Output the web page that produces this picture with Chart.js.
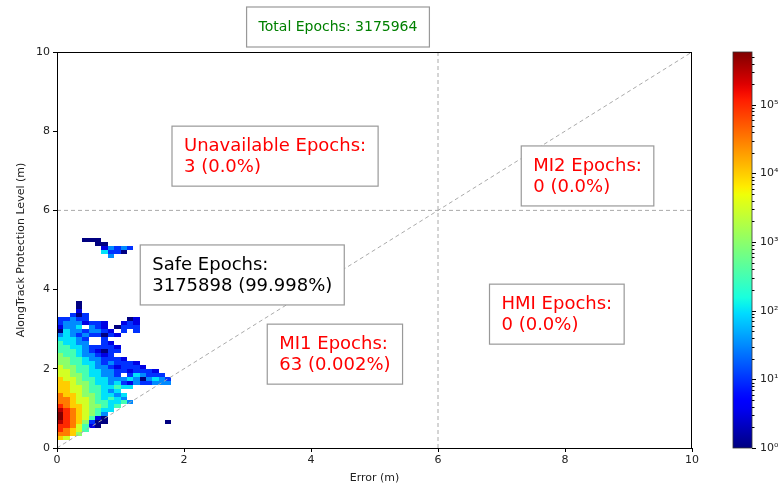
<!DOCTYPE html>
<html>
<head>
<meta charset="utf-8">
<script src="https://cdn.jsdelivr.net/npm/chart.js@4.4.1/dist/chart.umd.min.js"></script>
<style>html,body{margin:0;padding:0;background:#fff}</style>
</head>
<body>
<canvas id="grafica" width="783" height="485"></canvas>
<script>
// histograma 2D, celdas de 0.1 m x 0.1 m
// una fila por cadena (fila de arriba primero), un caracter por columna de 0.1 m
// caracter = medias decadas de log10(cuenta): '0'->1, '2'->10, '4'->100 ... 'A'->1e5, 'C'->~6e5, '.' vacio
const anchoBin = 0.1;
const filaSupPrincipal = 36;
const filasPrincipal = [
  '...0..............',
  '...0..............',
  '...1..............',
  '..202.............',
  '22322......01.....',
  '23331221..121.....',
  '1334.321.0222.....',
  '043323321.2.2.....',
  '3432322021........',
  '44432..2..........',
  '54433..21.........',
  '5544322221........',
  '5554321022........',
  '655433212.........',
  '66554332221.......',
  '6655443232221.....',
  '76655433212221....',
  '7765544332212221..',
  '7766544332.243222.',
  '877655443334303432',
  '887665443421322333',
  '887765544544......',
  '8877655434........',
  '98876654434.......',
  '99877654543.......',
  '998776554453......',
  'A988766545........',
  'BA9876544.........',
  'CA987653..........',
  'CA987510..........',
  'BA986200.........0',
  'AA97510...........',
  'A9875.............',
  '9986..............',
  '87................',
  '..................',
  '..................'
];
const filaSupAislada = 52;
const filasAisladas = [
  '....000.....',
  '......00....',
  '.......13232',
  '.......4220.',
  '........3...'
];

const logMax = 5.77;           // tope de la barra de color (log10)
const ticksCB = [0, 1, 2, 3, 4, 5];
const ticksEjes = [0, 2, 4, 6, 8, 10];

const totalEpochs = 3175964;
const nombresEpochs = ['Unavailable Epochs:', 'MI2 Epochs:', 'Safe Epochs:', 'HMI Epochs:', 'MI1 Epochs:'];
const cuentasEpochs = ['3 (0.0%)', '0 (0.0%)', '3175898 (99.998%)', '0 (0.0%)', '63 (0.002%)'];

const lineaDiag = [{x:0, y:0}, {x:10, y:10}];
const lineaVert = [{x:6, y:0}, {x:6, y:10}];
const lineaHoriz = [{x:0, y:6}, {x:10, y:6}];

// colocacion de las cajas de texto (coords de datos: x izquierda del texto, y centro)
const posCajas = [[2.0, 7.37, 'red'], [7.5, 6.87, 'red'], [1.5, 4.37, 'black'], [7.0, 3.38, 'red'], [3.5, 2.37, 'red']];

const celdas = [];
const leer = (filas, sup) => filas.forEach((f, i) => {
  [...f].forEach((c, col) => {
    if(c === '.') return;
    celdas.push({col, fila: sup - i, lg: Math.min(parseInt(c, 16) / 2, logMax)});
  });
});
leer(filasPrincipal, filaSupPrincipal);
leer(filasAisladas, filaSupAislada);

// colormap jet de matplotlib
const R = [[0,0],[0.35,0],[0.66,1],[0.89,1],[1,0.5]];
const G = [[0,0],[0.125,0],[0.375,1],[0.64,1],[0.91,0],[1,0]];
const B = [[0,0.5],[0.11,1],[0.34,1],[0.65,0],[1,0]];
const tramo = (p, t) => {
  for(let i = 1; i < p.length; i++){
    if(t <= p[i][0]){ const [t0,v0] = p[i-1], [t1,v1] = p[i]; return v0 + (v1-v0)*(t-t0)/(t1-t0); }
  }
  return p[p.length-1][1];
};
const jet = t => {
  t = Math.max(0, Math.min(1, t));
  return 'rgb(' + [R,G,B].map(p => Math.round(255*tramo(p, t))).join(',') + ')';
};

const fuente = '"DejaVu Sans", sans-serif';
const sup = '⁰¹²³⁴⁵⁶';

const pluginStanford = {
  id:'stanford',
  beforeDatasetsDraw(chart){
    const {ctx, scales:{x, y}} = chart;
    celdas.forEach(c => {
      const x0 = Math.round(x.getPixelForValue(c.col*anchoBin)), x1 = Math.round(x.getPixelForValue((c.col+1)*anchoBin));
      const y0 = Math.round(y.getPixelForValue(c.fila*anchoBin)), y1 = Math.round(y.getPixelForValue((c.fila+1)*anchoBin));
      ctx.fillStyle = jet(c.lg / logMax);
      ctx.fillRect(x0, y1, x1-x0, y0-y1);
    });
  },
  afterDatasetsDraw(chart){
    const {ctx, chartArea:a, scales:{x, y, cb}} = chart;
    ctx.save();
    // marco
    ctx.strokeStyle = '#000'; ctx.lineWidth = 1;
    ctx.strokeRect(a.left+0.5, a.top+0.5, a.right-a.left-1, a.bottom-a.top);

    // cajas de texto
    ctx.font = '18px ' + fuente;
    ctx.textBaseline = 'middle'; ctx.textAlign = 'left';
    posCajas.forEach(([px, py, col], i) => {
      const lineas = [nombresEpochs[i], cuentasEpochs[i]];
      const tx = x.getPixelForValue(px), cy = y.getPixelForValue(py);
      const w = Math.max(...lineas.map(l => ctx.measureText(l).width));
      ctx.fillStyle = '#fff'; ctx.fillRect(tx-12, cy-30, w+24, 60);
      ctx.strokeStyle = '#999'; ctx.lineWidth = 1.2; ctx.strokeRect(tx-12, cy-30, w+24, 60);
      ctx.fillStyle = col;
      ctx.fillText(lineas[0], tx, cy-10);
      ctx.fillText(lineas[1], tx, cy+11);
    });

    // titulo
    ctx.font = '14px ' + fuente;
    const tit = 'Total Epochs: ' + totalEpochs;
    const wt = ctx.measureText(tit).width, cxT = 338, cyT = 27;
    ctx.fillStyle = '#fff'; ctx.fillRect(cxT-wt/2-12, cyT-20, wt+24, 40);
    ctx.strokeStyle = '#999'; ctx.strokeRect(cxT-wt/2-12, cyT-20, wt+24, 40);
    ctx.fillStyle = '#008000'; ctx.textAlign = 'center';
    ctx.fillText(tit, cxT, cyT);

    // barra de color
    const bx = a.right + 41, bw = 19;
    const g = ctx.createLinearGradient(0, cb.bottom, 0, cb.top);
    for(let k = 0; k <= 50; k++) g.addColorStop(k/50, jet(k/50));
    ctx.fillStyle = g; ctx.fillRect(bx, cb.top, bw, cb.bottom-cb.top);
    ctx.strokeStyle = '#333'; ctx.lineWidth = 0.8; ctx.strokeRect(bx, cb.top, bw, cb.bottom-cb.top);
    ctx.strokeStyle = '#000'; ctx.lineWidth = 1;
    ctx.fillStyle = '#222'; ctx.textAlign = 'left'; ctx.textBaseline = 'middle';
    ctx.font = '11px ' + fuente;
    ticksCB.forEach(e => {
      for(let m = 1; m <= 9; m++){
        const v = m * Math.pow(10, e);
        if(Math.log10(v) > logMax) break;
        const py = Math.round(cb.getPixelForValue(v)) + 0.5;
        ctx.beginPath(); ctx.moveTo(bx+bw, py); ctx.lineTo(bx+bw+(m === 1 ? 4 : 2.5), py); ctx.stroke();
        if(m === 1) ctx.fillText('10' + sup[e], bx+bw+8, py);
      }
    });
    ctx.restore();
  }
};

const dashed = {showLine:true, borderColor:'#aaa', borderWidth:1, borderDash:[4,3], pointRadius:0, fill:false};

new Chart(document.getElementById('grafica').getContext('2d'), {
  type:'scatter',
  data:{ datasets:[
    {...dashed, data: lineaDiag},
    {...dashed, data: lineaVert},
    {...dashed, data: lineaHoriz}
  ]},
  options:{
    responsive:false, animation:false, devicePixelRatio:1,
    layout:{ padding:{top:52, left:0, right:0, bottom:0} },
    plugins:{ legend:{display:false}, tooltip:{enabled:false} },
    scales:{
      x:{ type:'linear', min:0, max:10,
          afterBuildTicks: s => { s.ticks = ticksEjes.map(v => ({value:v})); },
          ticks:{ color:'#222', font:{family:fuente, size:11}, padding:2, maxRotation:0 },
          grid:{ drawOnChartArea:false, tickLength:4, color:'#000' },
          border:{ color:'#000' },
          title:{ display:true, text:'Error (m)', color:'#222', font:{family:fuente, size:11}, padding:{top:0, bottom:0} },
          afterFit: s => { s.height = 37; } },
      y:{ type:'linear', min:0, max:10,
          afterBuildTicks: s => { s.ticks = ticksEjes.map(v => ({value:v})); },
          ticks:{ color:'#222', font:{family:fuente, size:11}, padding:3 },
          grid:{ drawOnChartArea:false, tickLength:4, color:'#000' },
          border:{ color:'#000' },
          title:{ display:true, text:'AlongTrack Protection Level (m)', color:'#222', font:{family:fuente, size:11}, padding:{top:15, bottom:0} },
          afterFit: s => { s.width = 57; } },
      cb:{ type:'logarithmic', position:'right', min:1, max:Math.pow(10, logMax),
          ticks:{ display:false },
          grid:{ display:false }, border:{ display:false },
          afterFit: s => { s.width = 91; } }
    }
  },
  plugins:[pluginStanford]
});
</script>
</body>
</html>
